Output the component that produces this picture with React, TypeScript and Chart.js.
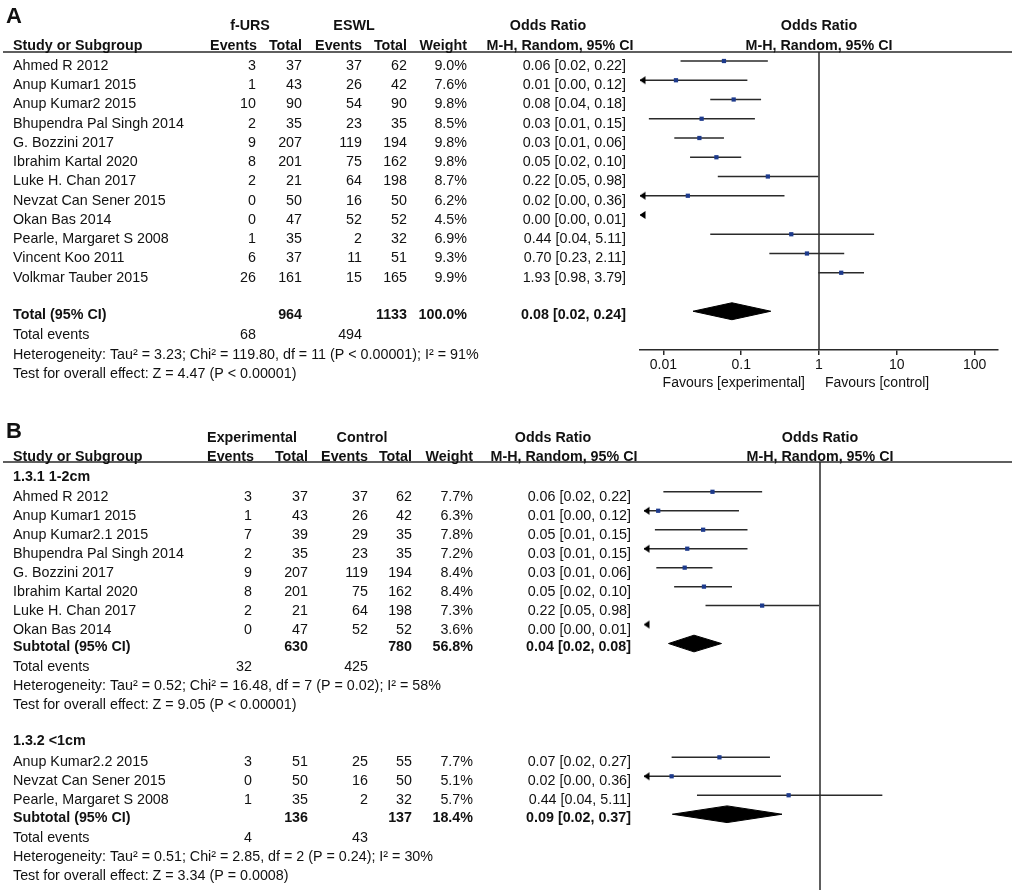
import { useEffect, useRef } from "react";
import { Chart, registerables } from "chart.js";

Chart.register(...registerables);

const FONT = '"Liberation Sans", Arial, Helvetica, sans-serif';
const TEXT = "#111111";
const LINE = "#2a2a2a";
const BLUE = "#1d3a8c";

// ---------------- Panel A data (f-URS vs ESWL) ----------------
const aStudies = [
  "Ahmed R 2012",
  "Anup Kumar1 2015",
  "Anup Kumar2 2015",
  "Bhupendra Pal Singh 2014",
  "G. Bozzini 2017",
  "Ibrahim Kartal 2020",
  "Luke H. Chan 2017",
  "Nevzat Can Sener 2015",
  "Okan Bas 2014",
  "Pearle, Margaret S 2008",
  "Vincent Koo 2011",
  "Volkmar Tauber 2015",
];
const aExpEvents = [3, 1, 10, 2, 9, 8, 2, 0, 0, 1, 6, 26];
const aExpTotals = [37, 43, 90, 35, 207, 201, 21, 50, 47, 35, 37, 161];
const aCtlEvents = [37, 26, 54, 23, 119, 75, 64, 16, 52, 2, 11, 15];
const aCtlTotals = [62, 42, 90, 35, 194, 162, 198, 50, 52, 32, 51, 165];
const aWeights = [9.0, 7.6, 9.8, 8.5, 9.8, 9.8, 8.7, 6.2, 4.5, 6.9, 9.3, 9.9];
const aOR = [0.06, 0.0145, 0.08, 0.031, 0.029, 0.048, 0.22, 0.0206, 0.0019, 0.44, 0.7, 1.93];
const aLo = [0.0166, 0.0006, 0.04, 0.0065, 0.0138, 0.022, 0.05, 0.001, 0.0001, 0.04, 0.23, 0.98];
const aHi = [0.22, 0.12, 0.18, 0.15, 0.06, 0.1, 0.98, 0.36, 0.0051, 5.11, 2.11, 3.79];
const aTotalN = [964, 1133];
const aTotalEvents = [68, 494];
const aTotalWeight = 100.0;
const aTotalCI = [0.076, 0.024, 0.24];
const aHetText = "Heterogeneity: Tau\u00b2 = 3.23; Chi\u00b2 = 119.80, df = 11 (P < 0.00001); I\u00b2 = 91%";
const aTestText = "Test for overall effect: Z = 4.47 (P < 0.00001)";
const aTicks = [0.01, 0.1, 1, 10, 100];

// ---------------- Panel B data (subgroups) ----------------
const bLabel1 = "1.3.1 1-2cm";
const b1Studies = [
  "Ahmed R 2012",
  "Anup Kumar1 2015",
  "Anup Kumar2.1 2015",
  "Bhupendra Pal Singh 2014",
  "G. Bozzini 2017",
  "Ibrahim Kartal 2020",
  "Luke H. Chan 2017",
  "Okan Bas 2014",
];
const b1ExpEvents = [3, 1, 7, 2, 9, 8, 2, 0];
const b1ExpTotals = [37, 43, 39, 35, 207, 201, 21, 47];
const b1CtlEvents = [37, 26, 29, 23, 119, 75, 64, 52];
const b1CtlTotals = [62, 42, 35, 35, 194, 162, 198, 52];
const b1Weights = [7.7, 6.3, 7.8, 7.2, 8.4, 8.4, 7.3, 3.6];
const b1OR = [0.06, 0.0145, 0.047, 0.031, 0.029, 0.048, 0.22, 0.0019];
const b1Lo = [0.0166, 0.0006, 0.0133, 0.0065, 0.0138, 0.022, 0.05, 0.0001];
const b1Hi = [0.22, 0.12, 0.15, 0.15, 0.06, 0.1, 0.98, 0.0051];
const b1SubN = [630, 780];
const b1SubEvents = [32, 425];
const b1SubWeight = 56.8;
const b1SubCI = [0.037, 0.019, 0.076];
const b1HetText = "Heterogeneity: Tau\u00b2 = 0.52; Chi\u00b2 = 16.48, df = 7 (P = 0.02); I\u00b2 = 58%";
const b1TestText = "Test for overall effect: Z = 9.05 (P < 0.00001)";

const bLabel2 = "1.3.2 <1cm";
const b2Studies = ["Anup Kumar2.2 2015", "Nevzat Can Sener 2015", "Pearle, Margaret S 2008"];
const b2ExpEvents = [3, 0, 1];
const b2ExpTotals = [51, 50, 35];
const b2CtlEvents = [25, 16, 2];
const b2CtlTotals = [55, 50, 32];
const b2Weights = [7.7, 5.1, 5.7];
const b2OR = [0.072, 0.0206, 0.44];
const b2Lo = [0.0206, 0.001, 0.04];
const b2Hi = [0.27, 0.36, 5.11];
const b2SubN = [136, 137];
const b2SubEvents = [4, 43];
const b2SubWeight = 18.4;
const b2SubCI = [0.088, 0.021, 0.37];
const b2HetText = "Heterogeneity: Tau\u00b2 = 0.51; Chi\u00b2 = 2.85, df = 2 (P = 0.24); I\u00b2 = 30%";
const b2TestText = "Test for overall effect: Z = 3.34 (P = 0.0008)";

// ---------------- helpers ----------------
type Align = "left" | "right" | "center";
type TextItem = { row: number; x: number | "plot"; text: string; align: Align; bold?: boolean; dy?: number };
type PlotRow = { r: number; or: number; lo: number; hi: number };

const ciText = (or: number, lo: number, hi: number) => `${or.toFixed(2)} [${lo.toFixed(2)}, ${hi.toFixed(2)}]`;
const pct = (w: number) => `${w.toFixed(1)}%`;
const DIAMOND_HALF = 0.44;

type Cols = { name: number; ee: number; et: number; ce: number; ct: number; w: number; ci: number };

function studyTexts(
  rows: number[],
  names: string[],
  ee: number[],
  et: number[],
  ce: number[],
  ct: number[],
  w: number[],
  or: number[],
  lo: number[],
  hi: number[],
  c: Cols
): TextItem[] {
  const out: TextItem[] = [];
  names.forEach((n, i) => {
    const r = rows[i];
    out.push({ row: r, x: c.name, text: n, align: "left", dy: 5 });
    out.push({ row: r, x: c.ee, text: String(ee[i]), align: "right", dy: 5 });
    out.push({ row: r, x: c.et, text: String(et[i]), align: "right", dy: 5 });
    out.push({ row: r, x: c.ce, text: String(ce[i]), align: "right", dy: 5 });
    out.push({ row: r, x: c.ct, text: String(ct[i]), align: "right", dy: 5 });
    out.push({ row: r, x: c.w, text: pct(w[i]), align: "right", dy: 5 });
    out.push({ row: r, x: c.ci, text: ciText(or[i], lo[i], hi[i]), align: "right", dy: 5 });
  });
  return out;
}

function summaryTexts(
  r: number,
  label: string,
  n: number[],
  w: number,
  ci: number[],
  events: number[],
  het: string,
  test: string,
  c: Cols
): TextItem[] {
  return [
    { row: r, x: c.name, text: label, align: "left", bold: true, dy: 4 },
    { row: r, x: c.et, text: String(n[0]), align: "right", bold: true, dy: 4 },
    { row: r, x: c.ct, text: String(n[1]), align: "right", bold: true, dy: 4 },
    { row: r, x: c.w, text: pct(w), align: "right", bold: true, dy: 4 },
    { row: r, x: c.ci, text: ciText(ci[0], ci[1], ci[2]), align: "right", bold: true, dy: 4 },
    { row: r + 1, x: c.name, text: "Total events", align: "left", dy: 5 },
    { row: r + 1, x: c.ee, text: String(events[0]), align: "right", dy: 5 },
    { row: r + 1, x: c.ce, text: String(events[1]), align: "right", dy: 5 },
    { row: r + 2, x: c.name, text: het, align: "left", dy: 5 },
    { row: r + 3, x: c.name, text: test, align: "left", dy: 5 },
  ];
}

function makeArrow(): HTMLCanvasElement {
  const cv = document.createElement("canvas");
  cv.width = 16;
  cv.height = 10;
  const ctx = cv.getContext("2d")!;
  ctx.fillStyle = "#000";
  ctx.beginPath();
  ctx.moveTo(7.5, 5);
  ctx.lineTo(13.5, 1);
  ctx.lineTo(13.5, 9);
  ctx.closePath();
  ctx.fill();
  return cv;
}

function forestDatasets(studies: PlotRow[], diamonds: PlotRow[], xMin: number, yMin: number, yMax: number, arrow: HTMLCanvasElement) {
  const ds: any[] = [];
  ds.push({
    data: studies.map((s) => ({ x: s.or, y: s.r })),
    pointStyle: "rect",
    pointRadius: 3,
    backgroundColor: BLUE,
    borderColor: BLUE,
    borderWidth: 0,
    order: 0,
  });
  ds.push({
    data: studies.filter((s) => s.lo < xMin).map((s) => ({ x: xMin, y: s.r })),
    pointStyle: arrow,
    pointRadius: 5,
    order: 1,
  });
  studies.forEach((s) =>
    ds.push({
      data: [
        { x: s.lo, y: s.r },
        { x: s.hi, y: s.r },
      ],
      showLine: true,
      borderColor: LINE,
      borderWidth: 1.5,
      pointRadius: 0,
      order: 2,
    })
  );
  diamonds.forEach((d) =>
    ds.push({
      data: [
        { x: d.lo, y: d.r },
        { x: d.or, y: d.r - DIAMOND_HALF },
        { x: d.hi, y: d.r },
        { x: d.or, y: d.r + DIAMOND_HALF },
        { x: d.lo, y: d.r },
      ],
      showLine: true,
      fill: "shape",
      backgroundColor: "#000",
      borderColor: "#000",
      borderWidth: 1,
      pointRadius: 0,
      tension: 0,
      order: 2,
    })
  );
  ds.push({
    data: [
      { x: 1, y: yMin },
      { x: 1, y: yMax },
    ],
    showLine: true,
    borderColor: LINE,
    borderWidth: 1.5,
    pointRadius: 0,
    order: 3,
  });
  return ds;
}

function textPlugin(id: string, items: TextItem[], panelLabel: string, labelY: number, favours: boolean) {
  return {
    id,
    afterDraw(chart: any) {
      const ctx: CanvasRenderingContext2D = chart.ctx;
      const ys = chart.scales.y;
      const xs = chart.scales.x;
      const area = chart.chartArea;
      const plotCenter = (area.left + area.right) / 2;
      ctx.save();
      // header underline
      ctx.strokeStyle = LINE;
      ctx.lineWidth = 1.6;
      ctx.beginPath();
      ctx.moveTo(3, area.top);
      ctx.lineTo(1012, area.top);
      ctx.stroke();
      // panel letter
      ctx.fillStyle = TEXT;
      ctx.font = `bold 22px ${FONT}`;
      ctx.textAlign = "left";
      ctx.textBaseline = "alphabetic";
      ctx.fillText(panelLabel, 6, labelY);
      // table text
      ctx.textBaseline = "middle";
      items.forEach((it) => {
        ctx.font = `${it.bold ? "bold " : ""}14.3px ${FONT}`;
        ctx.textAlign = it.align;
        const x = it.x === "plot" ? plotCenter : it.x;
        const y = ys.getPixelForValue(it.row) + (it.dy ?? 5);
        ctx.fillText(it.text, x, y);
      });
      if (favours) {
        const x1 = xs.getPixelForValue(1);
        ctx.font = `14px ${FONT}`;
        ctx.textAlign = "right";
        ctx.fillText("Favours [experimental]", x1 - 14, 383);
        ctx.textAlign = "left";
        ctx.fillText("Favours [control]", x1 + 6, 383);
      }
      ctx.restore();
    },
  };
}

// ---------------- configs ----------------
const colsA: Cols = { name: 13, ee: 256, et: 302, ce: 362, ct: 407, w: 467, ci: 626 };
const colsB: Cols = { name: 13, ee: 252, et: 308, ce: 368, ct: 412, w: 473, ci: 631 };

function configA(arrow: HTMLCanvasElement): any {
  const X_MIN = 0.005;
  const X_MAX = 200;
  const Y_MIN = -0.4675;
  const Y_MAX = 15.013;
  const rows = aStudies.map((_, i) => i);
  const totalRow = aStudies.length + 1;
  const studies: PlotRow[] = rows.map((r, i) => ({ r, or: aOR[i], lo: aLo[i], hi: aHi[i] }));
  const diamonds: PlotRow[] = [{ r: totalRow, or: aTotalCI[0], lo: aTotalCI[1], hi: aTotalCI[2] }];
  const items: TextItem[] = [
    { row: -2, x: 250, text: "f-URS", align: "center", bold: true, dy: 4 },
    { row: -2, x: 354, text: "ESWL", align: "center", bold: true, dy: 4 },
    { row: -2, x: 548, text: "Odds Ratio", align: "center", bold: true, dy: 4 },
    { row: -2, x: "plot", text: "Odds Ratio", align: "center", bold: true, dy: 4 },
    { row: -1, x: 13, text: "Study or Subgroup", align: "left", bold: true, dy: 4 },
    { row: -1, x: 257, text: "Events", align: "right", bold: true, dy: 4 },
    { row: -1, x: 302, text: "Total", align: "right", bold: true, dy: 4 },
    { row: -1, x: 362, text: "Events", align: "right", bold: true, dy: 4 },
    { row: -1, x: 407, text: "Total", align: "right", bold: true, dy: 4 },
    { row: -1, x: 467, text: "Weight", align: "right", bold: true, dy: 4 },
    { row: -1, x: 560, text: "M-H, Random, 95% CI", align: "center", bold: true, dy: 4 },
    { row: -1, x: "plot", text: "M-H, Random, 95% CI", align: "center", bold: true, dy: 4 },
    ...studyTexts(rows, aStudies, aExpEvents, aExpTotals, aCtlEvents, aCtlTotals, aWeights, aOR, aLo, aHi, colsA),
    ...summaryTexts(totalRow, "Total (95% CI)", aTotalN, aTotalWeight, aTotalCI, aTotalEvents, aHetText, aTestText, colsA),
  ];
  return {
    type: "scatter",
    data: { datasets: forestDatasets(studies, diamonds, X_MIN, Y_MIN, Y_MAX, arrow) },
    options: {
      animation: false,
      responsive: false,
      events: [],
      layout: { padding: { left: 640, right: 15, top: 52, bottom: 24.2 } },
      plugins: { legend: { display: false }, tooltip: { enabled: false } },
      scales: {
        x: {
          type: "logarithmic",
          min: X_MIN,
          max: X_MAX,
          bounds: "data",
          afterBuildTicks: (s: any) => {
            s.ticks = aTicks.map((v) => ({ value: v }));
          },
          ticks: {
            callback: (v: any) => String(v),
            font: { family: FONT, size: 14 },
            color: TEXT,
            padding: 2,
            autoSkip: false,
            maxRotation: 0,
          },
          grid: { drawOnChartArea: false, tickLength: 5, color: LINE, lineWidth: 1.5 },
          border: { color: LINE, width: 1.5 },
        },
        y: { type: "linear", min: Y_MIN, max: Y_MAX, reverse: true, display: false },
      },
    },
    plugins: [textPlugin("tableA", items, "A", 23, true)],
  };
}

function configB(arrow: HTMLCanvasElement): any {
  const X_MIN = 0.01;
  const X_MAX = 100;
  const Y_MIN = -1.5707;
  const Y_MAX = 20.995;
  const rows1 = b1Studies.map((_, i) => i);
  const sub1Row = b1Studies.length;
  const label2Row = sub1Row + 5;
  const rows2 = b2Studies.map((_, i) => label2Row + 1 + i);
  const sub2Row = label2Row + 1 + b2Studies.length;
  const studies: PlotRow[] = [
    ...rows1.map((r, i) => ({ r, or: b1OR[i], lo: b1Lo[i], hi: b1Hi[i] })),
    ...rows2.map((r, i) => ({ r, or: b2OR[i], lo: b2Lo[i], hi: b2Hi[i] })),
  ];
  const diamonds: PlotRow[] = [
    { r: sub1Row, or: b1SubCI[0], lo: b1SubCI[1], hi: b1SubCI[2] },
    { r: sub2Row, or: b2SubCI[0], lo: b2SubCI[1], hi: b2SubCI[2] },
  ];
  const items: TextItem[] = [
    { row: -3, x: 252, text: "Experimental", align: "center", bold: true, dy: 3.5 },
    { row: -3, x: 362, text: "Control", align: "center", bold: true, dy: 3.5 },
    { row: -3, x: 553, text: "Odds Ratio", align: "center", bold: true, dy: 3.5 },
    { row: -3, x: "plot", text: "Odds Ratio", align: "center", bold: true, dy: 3.5 },
    { row: -2, x: 13, text: "Study or Subgroup", align: "left", bold: true, dy: 3.5 },
    { row: -2, x: 254, text: "Events", align: "right", bold: true, dy: 3.5 },
    { row: -2, x: 308, text: "Total", align: "right", bold: true, dy: 3.5 },
    { row: -2, x: 368, text: "Events", align: "right", bold: true, dy: 3.5 },
    { row: -2, x: 412, text: "Total", align: "right", bold: true, dy: 3.5 },
    { row: -2, x: 473, text: "Weight", align: "right", bold: true, dy: 3.5 },
    { row: -2, x: 564, text: "M-H, Random, 95% CI", align: "center", bold: true, dy: 3.5 },
    { row: -2, x: "plot", text: "M-H, Random, 95% CI", align: "center", bold: true, dy: 3.5 },
    { row: -1, x: 13, text: bLabel1, align: "left", bold: true, dy: 4 },
    ...studyTexts(rows1, b1Studies, b1ExpEvents, b1ExpTotals, b1CtlEvents, b1CtlTotals, b1Weights, b1OR, b1Lo, b1Hi, colsB),
    ...summaryTexts(sub1Row, "Subtotal (95% CI)", b1SubN, b1SubWeight, b1SubCI, b1SubEvents, b1HetText, b1TestText, colsB),
    { row: label2Row, x: 13, text: bLabel2, align: "left", bold: true, dy: 3 },
    ...studyTexts(rows2, b2Studies, b2ExpEvents, b2ExpTotals, b2CtlEvents, b2CtlTotals, b2Weights, b2OR, b2Lo, b2Hi, colsB),
    ...summaryTexts(sub2Row, "Subtotal (95% CI)", b2SubN, b2SubWeight, b2SubCI, b2SubEvents, b2HetText, b2TestText, colsB),
  ];
  return {
    type: "scatter",
    data: { datasets: forestDatasets(studies, diamonds, X_MIN, Y_MIN, Y_MAX, arrow) },
    options: {
      animation: false,
      responsive: false,
      events: [],
      layout: { padding: { left: 644, right: 17, top: 62, bottom: 3 } },
      plugins: { legend: { display: false }, tooltip: { enabled: false } },
      scales: {
        x: { type: "logarithmic", min: X_MIN, max: X_MAX, bounds: "data", display: false },
        y: { type: "linear", min: Y_MIN, max: Y_MAX, reverse: true, display: false },
      },
    },
    plugins: [textPlugin("tableB", items, "B", 38, false)],
  };
}

export default function App() {
  const refA = useRef<HTMLCanvasElement>(null);
  const refB = useRef<HTMLCanvasElement>(null);
  useEffect(() => {
    const arrow = makeArrow();
    const ca = new Chart(refA.current!, configA(arrow));
    const cb = new Chart(refB.current!, configB(arrow));
    return () => {
      ca.destroy();
      cb.destroy();
    };
  }, []);
  return (
    <div style={{ position: "absolute", left: 0, top: 0, width: 1013, height: 896, background: "#fff" }}>
      <canvas
        ref={refA}
        width={1013}
        height={400}
        style={{ position: "absolute", left: 0, top: 0, width: 1013, height: 400 }}
      />
      <canvas
        ref={refB}
        width={1013}
        height={496}
        style={{ position: "absolute", left: 0, top: 400, width: 1013, height: 496 }}
      />
    </div>
  );
}
